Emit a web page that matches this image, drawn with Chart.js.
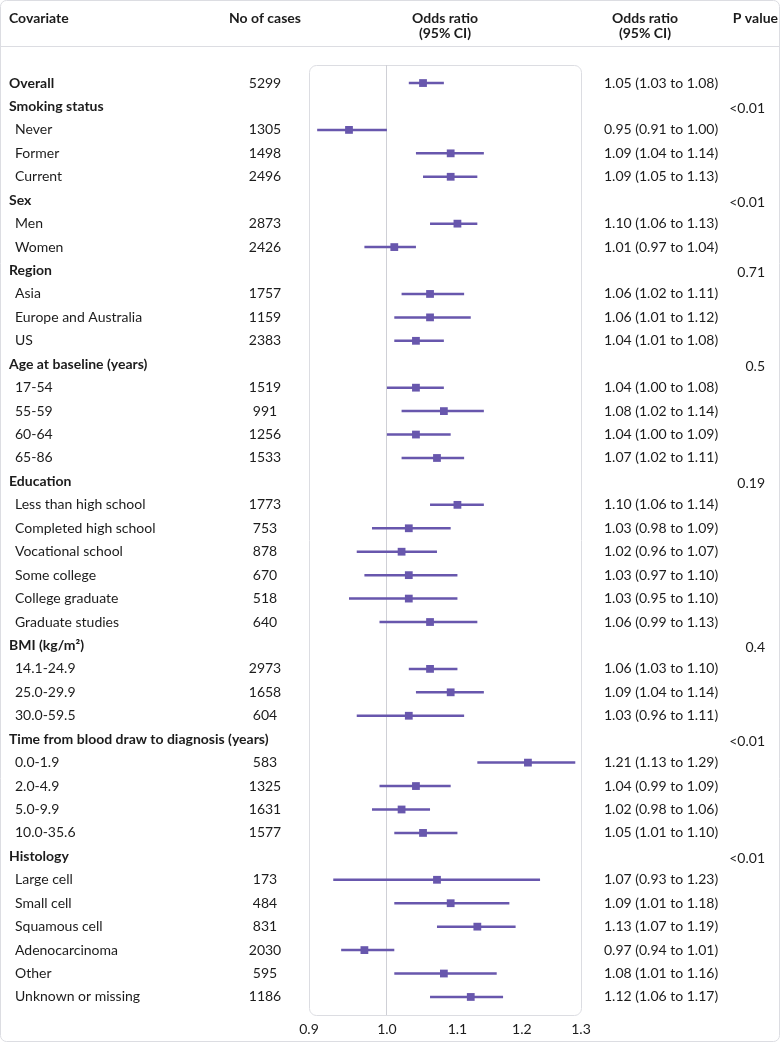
<!DOCTYPE html>
<html lang="en">
<head>
<meta charset="UTF-8">
<title>Forest plot</title>
<script src="https://cdn.jsdelivr.net/npm/chart.js"></script>
<style>
  html, body { margin: 0; padding: 0; background: #fff; }
  #wrap { position: relative; width: 780px; height: 1043px; }
</style>
</head>
<body>
<div id="wrap"><canvas id="forest" width="780" height="1043"></canvas></div>
<script>
// rows, top to bottom; level 0 = bold heading, 1 = indented sub-row
const covariates = ['Overall', 'Smoking status', 'Never', 'Former', 'Current', 'Sex', 'Men', 'Women',
  'Region', 'Asia', 'Europe and Australia', 'US', 'Age at baseline (years)', '17-54', '55-59', '60-64', '65-86',
  'Education', 'Less than high school', 'Completed high school', 'Vocational school', 'Some college',
  'College graduate', 'Graduate studies', 'BMI (kg/m²)', '14.1-24.9', '25.0-29.9', '30.0-59.5',
  'Time from blood draw to diagnosis (years)', '0.0-1.9', '2.0-4.9', '5.0-9.9', '10.0-35.6',
  'Histology', 'Large cell', 'Small cell', 'Squamous cell', 'Adenocarcinoma', 'Other', 'Unknown or missing'];
const levels = [0, 0, 1, 1, 1, 0, 1, 1, 0, 1, 1, 1, 0, 1, 1, 1, 1, 0, 1, 1, 1, 1, 1, 1, 0, 1, 1, 1,
  0, 1, 1, 1, 1, 0, 1, 1, 1, 1, 1, 1];
const cases = [5299, null, 1305, 1498, 2496, null, 2873, 2426, null, 1757, 1159, 2383, null, 1519, 991, 1256, 1533,
  null, 1773, 753, 878, 670, 518, 640, null, 2973, 1658, 604, null, 583, 1325, 1631, 1577,
  null, 173, 484, 831, 2030, 595, 1186];
const oddsRatio = [1.05, null, 0.95, 1.09, 1.09, null, 1.10, 1.01, null, 1.06, 1.06, 1.04, null, 1.04, 1.08, 1.04, 1.07,
  null, 1.10, 1.03, 1.02, 1.03, 1.03, 1.06, null, 1.06, 1.09, 1.03, null, 1.21, 1.04, 1.02, 1.05,
  null, 1.07, 1.09, 1.13, 0.97, 1.08, 1.12];
const ciLow = [1.03, null, 0.91, 1.04, 1.05, null, 1.06, 0.97, null, 1.02, 1.01, 1.01, null, 1.00, 1.02, 1.00, 1.02,
  null, 1.06, 0.98, 0.96, 0.97, 0.95, 0.99, null, 1.03, 1.04, 0.96, null, 1.13, 0.99, 0.98, 1.01,
  null, 0.93, 1.01, 1.07, 0.94, 1.01, 1.06];
const ciHigh = [1.08, null, 1.00, 1.14, 1.13, null, 1.13, 1.04, null, 1.11, 1.12, 1.08, null, 1.08, 1.14, 1.09, 1.11,
  null, 1.14, 1.09, 1.07, 1.10, 1.10, 1.13, null, 1.10, 1.14, 1.11, null, 1.29, 1.09, 1.06, 1.10,
  null, 1.23, 1.18, 1.19, 1.01, 1.16, 1.17];
const pValues = ['', '<0.01', '', '', '', '<0.01', '', '', '0.71', '', '', '', '0.5', '', '', '', '',
  '0.19', '', '', '', '', '', '', '0.4', '', '', '', '<0.01', '', '', '', '',
  '<0.01', '', '', '', '', '', ''];
const xTicks = [0.9, 1.0, 1.1, 1.2, 1.3];

const purple = '#6857ad';
const ink = '#1c1c1c';
const lineGrey = '#dcdde2';
const FONT = 'Lato, "Open Sans", sans-serif';

// CI segments as one line with gaps between rows
const ciPoints = [];
oddsRatio.forEach((v, i) => {
  if (v === null) return;
  ciPoints.push({ x: ciLow[i], y: i }, { x: ciHigh[i], y: i }, { x: null, y: null });
});
const orPoints = [];
oddsRatio.forEach((v, i) => { if (v !== null) orPoints.push({ x: v, y: i }); });

// frame, header and text columns
const tablePlugin = {
  id: 'table',
  beforeDraw(chart) {
    const c = chart.ctx, a = chart.chartArea;
    c.save();
    c.strokeStyle = lineGrey;
    c.lineWidth = 1;
    c.beginPath();
    c.roundRect(0.5, 0.5, 779, 1041, 6);
    c.stroke();
    c.beginPath();
    c.moveTo(0, 46.5); c.lineTo(780, 46.5);
    c.stroke();
    c.beginPath();
    c.roundRect(a.left + 0.5, a.top + 0.5, a.right - a.left, a.bottom - a.top, 7);
    c.stroke();
    c.restore();
  },
  afterDraw(chart) {
    const c = chart.ctx, a = chart.chartArea, ys = chart.scales.y;
    c.save();
    c.fillStyle = ink;
    c.textBaseline = 'middle';
    // header
    c.font = 'bold 14px ' + FONT;
    c.textAlign = 'left';
    c.fillText('Covariate', 9, 18);
    c.textAlign = 'center';
    c.fillText('No of cases', 265, 18);
    const mid = (a.left + a.right) / 2;
    c.fillText('Odds ratio', mid, 18);
    c.fillText('(95% CI)', mid, 33);
    c.fillText('Odds ratio', 645, 18);
    c.fillText('(95% CI)', 645, 33);
    c.textAlign = 'right';
    c.fillText('P value', 778, 18);
    // rows
    covariates.forEach((lab, i) => {
      const y = ys.getPixelForValue(i);
      c.font = (levels[i] === 0 ? 'bold ' : '') + '14px ' + FONT;
      c.textAlign = 'left';
      c.fillText(lab, levels[i] === 0 ? 9 : 15, y);
      c.font = '14px ' + FONT;
      if (cases[i] !== null) {
        c.textAlign = 'center';
        c.fillText(String(cases[i]), 265, y);
      }
      if (oddsRatio[i] !== null) {
        c.textAlign = 'left';
        c.fillText(oddsRatio[i].toFixed(2) + ' (' + ciLow[i].toFixed(2) + ' to ' + ciHigh[i].toFixed(2) + ')', 604, y);
      }
      if (pValues[i]) {
        c.textAlign = 'right';
        c.fillText(pValues[i], 765, y + 2);
      }
    });
    c.restore();
  }
};

new Chart(document.getElementById('forest'), {
  type: 'line',
  data: {
    datasets: [{
      data: ciPoints,
      borderColor: purple,
      borderWidth: 2.5,
      pointRadius: 0,
      spanGaps: false,
      order: 2
    }, {
      type: 'scatter',
      data: orPoints,
      backgroundColor: purple,
      borderColor: purple,
      borderWidth: 0,
      pointStyle: 'rect',
      pointRadius: 5.5,
      order: 1
    }]
  },
  options: {
    responsive: false,
    animation: false,
    devicePixelRatio: 1,
    layout: { padding: { left: 309, right: 199, top: 65, bottom: 0 } },
    plugins: { legend: { display: false }, tooltip: { enabled: false } },
    scales: {
      x: {
        type: 'logarithmic',
        min: 0.9,
        max: 1.3,
        afterBuildTicks: s => { s.ticks = xTicks.map(v => ({ value: v })); },
        afterFit: s => { s.height = 28; },
        border: { display: false },
        grid: {
          drawTicks: false,
          color: ctx => (ctx.tick && ctx.tick.value === 1 ? '#cfd0d6' : 'rgba(0,0,0,0)')
        },
        ticks: {
          padding: 6,
          color: ink,
          font: { family: FONT, size: 14 },
          callback: v => Number(v).toFixed(1),
          maxRotation: 0,
          autoSkip: false
        }
      },
      y: {
        type: 'linear',
        display: false,
        reverse: true,
        min: -0.77,
        max: covariates.length - 1 + 0.77
      }
    }
  },
  plugins: [tablePlugin]
});
</script>
</body>
</html>
